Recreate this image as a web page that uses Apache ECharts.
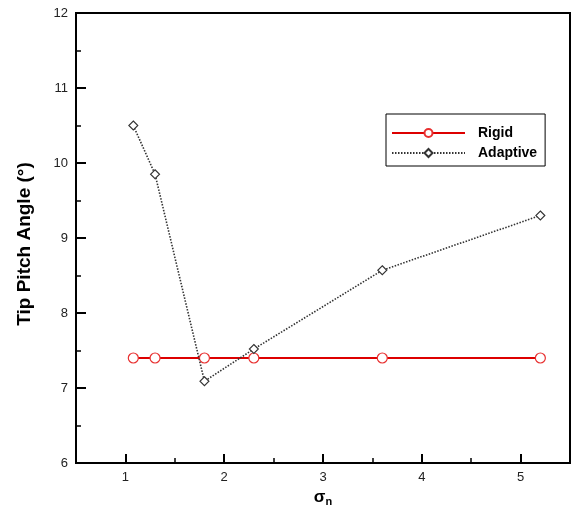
<!DOCTYPE html>
<html>
<head>
<meta charset="utf-8">
<script src="https://cdn.jsdelivr.net/npm/echarts@6/dist/echarts.min.js"></script>
<style>
  html, body { margin: 0; padding: 0; background: #fff; }
  #chart { width: 577px; height: 506px; }
</style>
</head>
<body>
<div id="chart"></div>
<script>
// data
const sigmaN = [1.08, 1.3, 1.8, 2.3, 3.6, 5.2];
const rigid = [7.4, 7.4, 7.4, 7.4, 7.4, 7.4];
const adaptive = [10.5, 9.85, 7.09, 7.52, 8.57, 9.3];

const xMajor = [1, 2, 3, 4, 5];
const xMinor = [1.5, 2.5, 3.5, 4.5];

const pairs = (xs, ys) => xs.map((x, i) => [x, ys[i]]);

const font = 'Liberation Sans, Arial, sans-serif';

const chart = echarts.init(document.getElementById('chart'));
chart.setOption({
  animation: false,
  backgroundColor: '#fff',
  grid: {
    left: 76, right: 7, top: 13, bottom: 43,
    outerBoundsMode: 'none',
    show: true, borderColor: '#000', borderWidth: 2
  },
  legend: {
    orient: 'vertical',
    left: 386, top: 114,
    width: 163,
    padding: [12, 8, 6, 5],
    itemGap: 6,
    itemWidth: 73, itemHeight: 10,
    borderColor: '#000', borderWidth: 1,
    backgroundColor: '#fff',
    textStyle: { fontFamily: font, fontWeight: 'bold', fontSize: 14, color: '#000', padding: [0, 0, 0, 8] },
    data: ['Rigid', 'Adaptive']
  },
  xAxis: [{
    type: 'value', min: 0.5, max: 5.5,
    name: '{s|σ}{n|n}',
    nameLocation: 'middle', nameGap: 20,
    nameTextStyle: {
      rich: {
        s: { fontFamily: font, fontSize: 17, fontWeight: 'bold', color: '#000' },
        n: { fontFamily: font, fontSize: 11, fontWeight: 'bold', color: '#000', padding: [10, 0, 0, 0] }
      }
    },
    axisLine: { show: true, lineStyle: { color: '#000', width: 2 } },
    axisTick: { inside: true, length: 9, customValues: xMajor, lineStyle: { color: '#000', width: 2 } },
    axisLabel: { customValues: xMajor, margin: 8, fontFamily: font, fontSize: 13, color: '#222' },
    splitLine: { show: false }
  }, {
    type: 'value', min: 0.5, max: 5.5, position: 'bottom',
    axisLine: { show: false },
    axisTick: { inside: true, length: 5, customValues: xMinor, lineStyle: { color: '#000', width: 1.5 } },
    axisLabel: { show: false },
    splitLine: { show: false }
  }],
  yAxis: {
    type: 'value', min: 6, max: 12, interval: 1,
    name: 'Tip Pitch Angle (°)',
    nameLocation: 'middle', nameGap: 42, nameRotate: 90,
    nameTextStyle: { fontFamily: font, fontSize: 19, fontWeight: 'bold', color: '#000', padding: [0, 12, 0, 0] },
    axisLine: { show: true, lineStyle: { color: '#000', width: 2 } },
    axisTick: { inside: true, length: 10, lineStyle: { color: '#000', width: 2 } },
    minorTick: { show: true, splitNumber: 2, length: 5, lineStyle: { color: '#000', width: 1.5 } },
    axisLabel: { margin: 8, fontFamily: font, fontSize: 13, color: '#222' },
    splitLine: { show: false }
  },
  series: [{
    name: 'Rigid',
    type: 'line',
    data: pairs(sigmaN, rigid),
    symbol: 'circle', symbolSize: 10,
    lineStyle: { color: '#dd0000', width: 2 },
    itemStyle: { color: '#fff', borderColor: '#e83030', borderWidth: 1.2 },
    z: 3
  }, {
    name: 'Adaptive',
    type: 'line',
    data: pairs(sigmaN, adaptive),
    symbol: 'diamond', symbolSize: 9,
    lineStyle: { color: '#333', width: 1.6, type: [1.5, 1.5] },
    itemStyle: { color: '#fff', borderColor: '#333', borderWidth: 1.1 },
    z: 4
  }]
});
</script>
</body>
</html>
